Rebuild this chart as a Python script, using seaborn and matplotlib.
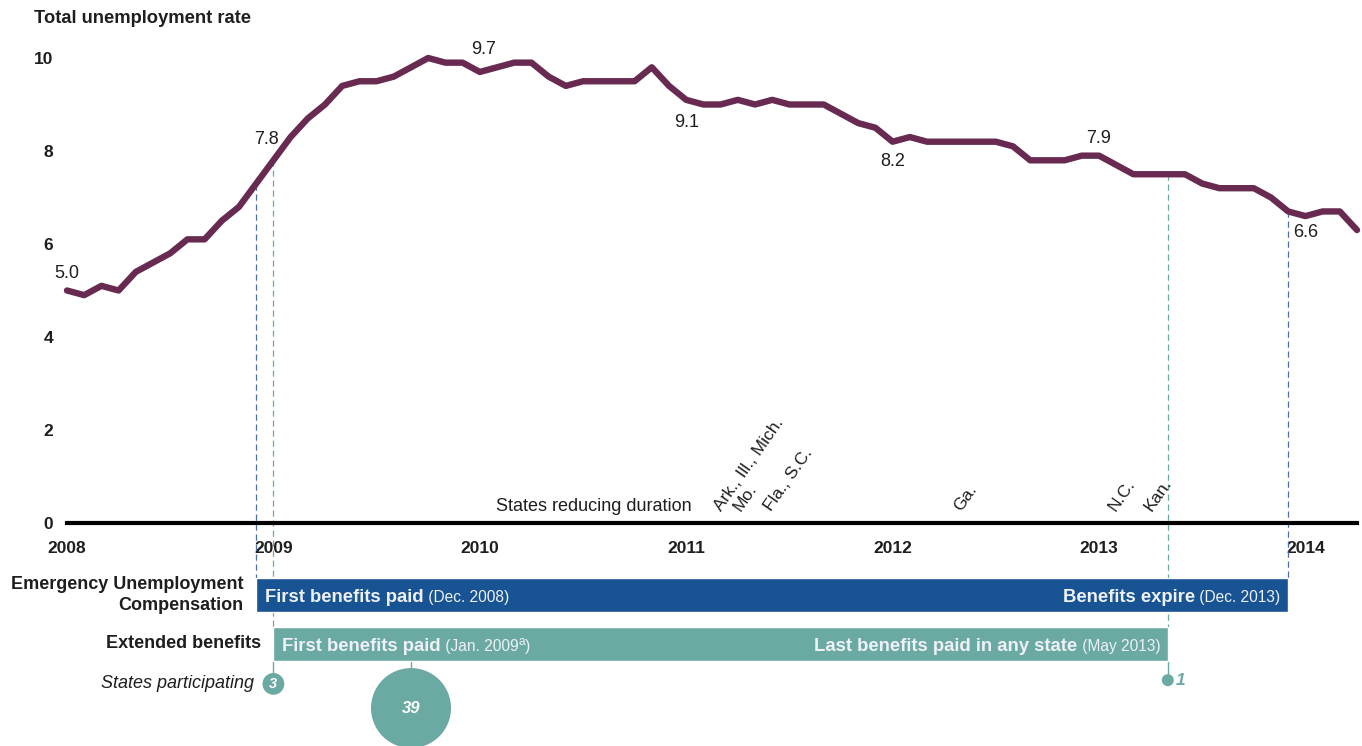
import numpy as np
import pandas as pd
import matplotlib
matplotlib.use("Agg")
import matplotlib.pyplot as plt
import seaborn as sns

# monthly unemployment rate, Jan 2008 .. Apr 2014
rate = [5.0, 4.9, 5.1, 5.0, 5.4, 5.6, 5.8, 6.1, 6.1, 6.5, 6.8, 7.3,
        7.8, 8.3, 8.7, 9.0, 9.4, 9.5, 9.5, 9.6, 9.8, 10.0, 9.9, 9.9,
        9.7, 9.8, 9.9, 9.9, 9.6, 9.4, 9.5, 9.5, 9.5, 9.5, 9.8, 9.4,
        9.1, 9.0, 9.0, 9.1, 9.0, 9.1, 9.0, 9.0, 9.0, 8.8, 8.6, 8.5,
        8.2, 8.3, 8.2, 8.2, 8.2, 8.2, 8.2, 8.1, 7.8, 7.8, 7.8, 7.9,
        7.9, 7.7, 7.5, 7.5, 7.5, 7.5, 7.3, 7.2, 7.2, 7.2, 7.0, 6.7,
        6.6, 6.7, 6.7, 6.3]
years = [2008, 2009, 2010, 2011, 2012, 2013, 2014]
y_ticks = [0, 2, 4, 6, 8, 10]

# labelled months (index from Jan 2008)
label_months = [0, 12, 24, 36, 48, 60, 72]

# states reducing duration
state_labels = ["Ark., Ill., Mich.", "Mo.", "Fla., S.C.", "Ga.", "N.C.", "Kan."]
state_months = [37.5, 38.6, 40.4, 51.4, 60.4, 62.5]

# programs
programs = ["Emergency Unemployment\nCompensation", "Extended benefits"]
prog_start = [11, 12]
prog_end = [71, 64]
prog_left_text = ["First benefits paid", "First benefits paid"]
prog_left_note = [" (Dec. 2008", " (Jan. 2009"]
prog_left_sup = ["", "a"]
prog_right_text = ["Benefits expire", "Last benefits paid in any state"]
prog_right_note = [" (Dec. 2013)", " (May 2013)"]

# states participating in extended benefits
part_months = [12, 20, 64]
part_counts = [3, 39, 1]

# guide lines
guide_months = [11, 71, 12, 64]

purple = "#682A50"
navy = "#185393"
teal = "#6BA9A3"
dash_blue = "#4C6FA8"
ink = "#1E1E1E"
bar_txt = "#EEF1F5"

sns.set_theme(style="white")
plt.rcParams["font.family"] = ["Liberation Sans", "DejaVu Sans"]

W, H = 1362, 746
fig = plt.figure(figsize=(W / 100, H / 100), dpi=100)
px_month = 17.2
px_unit = 46.5
x0, y0 = 67, 523
ax = fig.add_axes([x0 / W, (H - y0) / H, 75 * px_month / W, 11 * px_unit / H])

df = pd.DataFrame({"month": np.arange(len(rate)), "rate": rate})

# guides first (behind)
bar_h = 0.73
bar_y = [-1.548, -2.602]
circle_y = [-3.46, -3.98, -3.38]
for m in guide_months:
    if m in (11, 71):
        ax.plot([m, m], [rate[m], bar_y[0] + bar_h / 2], color=dash_blue, lw=0.9,
                ls=(0, (5, 3)), clip_on=False, zorder=1)
    else:
        ax.plot([m, m], [rate[m], bar_y[1] + bar_h / 2], color=teal, lw=0.9,
                ls=(0, (5, 3)), clip_on=False, zorder=1)
for m, cy in zip(part_months, circle_y):
    ax.plot([m, m], [bar_y[1] - bar_h / 2, cy], color=teal, lw=1.0, clip_on=False, zorder=1)

sns.lineplot(data=df, x="month", y="rate", color=purple, linewidth=4.6, ax=ax,
             solid_capstyle="round", clip_on=False, zorder=3)

for m, off in zip(label_months, [(0, 12), (-5, 15), (3, 16), (0, -16), (0, -14), (0, 12), (0, -12)]):
    ax.annotate(f"{rate[m]:.1f}", xy=(m, rate[m]), xytext=off, textcoords="offset points",
                ha="center", va="center", fontsize=13, color=ink)

# program bars
ax.barh(bar_y, [e - s for s, e in zip(prog_start, prog_end)], left=prog_start, height=bar_h,
        color=[navy, teal], clip_on=False, zorder=2)
for i in range(len(programs)):
    base = bar_y[i] - 0.15
    ax.annotate(programs[i], xy=(prog_start[i], bar_y[i]), xytext=(-9, 0),
                textcoords="offset points", ha="right", va="center", multialignment="right",
                fontsize=13, fontweight="bold", color=ink, linespacing=1.3,
                annotation_clip=False)
    t1 = ax.annotate(prog_left_text[i], xy=(prog_start[i], base), xytext=(6.5, 0),
                     textcoords="offset points", ha="left", va="baseline",
                     fontsize=13.3, fontweight="bold", color=bar_txt,
                     annotation_clip=False, zorder=5)
    n1 = ax.annotate(prog_left_note[i], xy=(1, base), xycoords=(t1, "data"), ha="left",
                     va="baseline", fontsize=11.2, color=bar_txt, annotation_clip=False, zorder=5)
    last = n1
    if prog_left_sup[i]:
        last = ax.annotate(prog_left_sup[i], xy=(1, base + 0.12), xycoords=(n1, "data"),
                           ha="left", va="baseline", fontsize=8.5, color=bar_txt,
                           annotation_clip=False, zorder=5)
    ax.annotate(")", xy=(1, base), xycoords=(last, "data"), ha="left", va="baseline",
                fontsize=11.2, color=bar_txt, annotation_clip=False, zorder=5)
    t2 = ax.annotate(prog_right_note[i], xy=(prog_end[i], base), xytext=(-5.5, 0),
                     textcoords="offset points", ha="right", va="baseline",
                     fontsize=11.2, color=bar_txt, annotation_clip=False, zorder=5)
    ax.annotate(prog_right_text[i], xy=(0, base), xycoords=(t2, "data"), ha="right",
                va="baseline", fontsize=13.3, fontweight="bold", color=bar_txt,
                annotation_clip=False, zorder=5)

# states participating bubbles
pdf = pd.DataFrame({"month": part_months, "y": circle_y, "n": part_counts})
sns.scatterplot(data=pdf, x="month", y="y", size="n", sizes=(75, 3318), color=teal,
                linewidth=0, legend=False, ax=ax, clip_on=False, zorder=3)
ax.annotate("States participating", xy=(part_months[0], circle_y[0]), xytext=(-14, 0),
            textcoords="offset points", ha="right", va="center", fontsize=13,
            style="italic", color=ink, annotation_clip=False)
ax.text(part_months[0], circle_y[0], str(part_counts[0]), ha="center", va="center",
        fontsize=10.5, fontweight="bold", style="italic", color="white", zorder=4, clip_on=False)
ax.text(part_months[1], circle_y[1], str(part_counts[1]), ha="center", va="center",
        fontsize=12, fontweight="bold", style="italic", color="white", zorder=4, clip_on=False)
ax.annotate(str(part_counts[2]), xy=(part_months[2], circle_y[2]), xytext=(6, 0),
            textcoords="offset points", ha="left", va="center", fontsize=12.5,
            fontweight="bold", style="italic", color=teal, annotation_clip=False)

# states reducing duration
ax.text(36.3, 0.35, "States reducing duration", ha="right", va="center", fontsize=13, color=ink)
for lab, m in zip(state_labels, state_months):
    ax.annotate(lab, xy=(m, 0.24), xytext=(7, 0), textcoords="offset points",
                rotation=55, rotation_mode="anchor", ha="left", va="baseline",
                fontsize=12.5, color=ink)

ax.text(-1.92, 10.86, "Total unemployment rate", ha="left", va="center",
        fontsize=13.2, fontweight="bold", color=ink, clip_on=False)

# axes styling
ax.set_xlim(0, 75)
ax.set_ylim(0, 11)
for s in ["top", "right", "left"]:
    ax.spines[s].set_visible(False)
ax.spines["bottom"].set_linewidth(3)
ax.spines["bottom"].set_color("black")
ax.spines["bottom"].set_zorder(4)
ax.set_xticks([(y - 2008) * 12 for y in years])
ax.set_xticklabels([str(y) for y in years], fontweight="bold", fontsize=12.5, color=ink)
ax.set_yticks(y_ticks)
ax.set_yticklabels([str(v) for v in y_ticks], fontweight="bold", fontsize=12.5, color=ink)
ax.tick_params(axis="x", length=0, pad=13)
ax.tick_params(axis="y", length=0, pad=10)
ax.set_xlabel("")
ax.set_ylabel("")
ax.grid(False)

fig.savefig("out.png", dpi=100)
